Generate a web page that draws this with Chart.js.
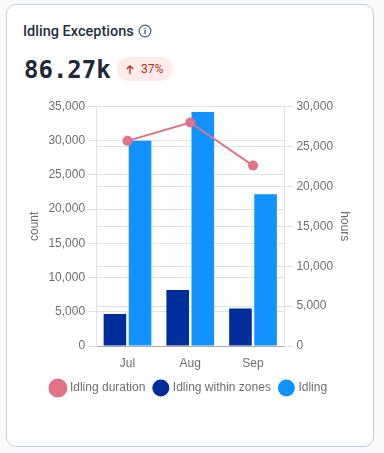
<!DOCTYPE html>
<html>
  <head>
    <title>Idling Exceptions</title>
    <style>
      body {
        margin: 0;
        width: 384px;
        height: 453px;
        background-color: #f8fafc;
        overflow: hidden;
        position: relative;
      }

      .card {
        position: absolute;
        left: 6px;
        top: 4px;
        width: 366px;
        height: 441px;
        background-color: #fff;
        border: 1px solid #c5d0df;
        border-radius: 10px;
      }

      .title {
        position: absolute;
        left: 23px;
        top: 23px;
        font: 500 14.5px Roboto, sans-serif;
        color: #27303f;
        line-height: 18px;
      }

      .info {
        position: absolute;
        left: 138px;
        top: 24px;
      }

      .total {
        position: absolute;
        left: 24px;
        top: 55px;
        font: bold 24px "DejaVu Sans Mono", monospace;
        line-height: 30px;
        color: #1f2937;
      }

      .badge {
        position: absolute;
        left: 117px;
        top: 57px;
        width: 56px;
        height: 24px;
        border-radius: 12px;
        background-color: #fdecea;
      }

      .badge svg {
        position: absolute;
        left: 8px;
        top: 7px;
      }

      .badge span {
        position: absolute;
        left: 24px;
        top: 0;
        color: #c5281c;
        font: 12px/24px Roboto, sans-serif;
      }

      #chart-box {
        position: absolute;
        left: 7px;
        top: 90px;
        width: 364px;
        height: 314px;
      }
    </style>
  </head>
  <body>
    <div class="card"></div>
    <div class="title">Idling Exceptions</div>
    <svg class="info" width="14" height="14" viewBox="0 0 14 14">
      <circle cx="7" cy="7" r="5.8" fill="none" stroke="#56657a" stroke-width="1.3" />
      <rect x="6.3" y="6" width="1.4" height="4" fill="#56657a" />
      <rect x="6.3" y="3.8" width="1.4" height="1.4" fill="#56657a" />
    </svg>
    <div class="total">86.27k</div>
    <div class="badge">
      <svg width="10" height="11" viewBox="0 0 10 11">
        <path d="M5 10V2M1.8 5L5 1.8 8.2 5" fill="none" stroke="#c5281c" stroke-width="1.3" />
      </svg>
      <span>37%</span>
    </div>
    <div id="chart-box"><canvas id="idling-chart"></canvas></div>

    <script src="https://cdn.jsdelivr.net/npm/chart.js"></script>
    <script>
      const months = ["Jul", "Aug", "Sep"];
      const idlingDuration = [25700, 28000, 22600];
      const idlingWithinZones = [4700, 8200, 5500];
      const idling = [30000, 34200, 22200];

      const tickFont = { family: "'Liberation Sans', Arial, sans-serif", size: 12 };

      const chart = new Chart(document.getElementById("idling-chart"), {
        data: {
          labels: months,
          datasets: [
            {
              type: "line",
              label: "Idling duration",
              data: idlingDuration,
              yAxisID: "y1",
              borderColor: "#e27386",
              backgroundColor: "#e27386",
              borderWidth: 2,
              pointRadius: 4,
              pointHoverRadius: 4,
            },
            {
              type: "bar",
              label: "Idling within zones",
              data: idlingWithinZones,
              yAxisID: "y",
              backgroundColor: "#002d9c",
              categoryPercentage: 0.8,
              barPercentage: 0.9,
            },
            {
              type: "bar",
              label: "Idling",
              data: idling,
              yAxisID: "y",
              backgroundColor: "#1192ff",
              categoryPercentage: 0.8,
              barPercentage: 0.9,
            },
          ],
        },
        options: {
          responsive: true,
          maintainAspectRatio: false,
          animation: false,
          layout: { padding: { left: 16, right: 15, top: 16.5 } },
          plugins: {
            tooltip: { enabled: false },
            legend: {
              position: "bottom",
              labels: {
                usePointStyle: true,
                boxHeight: 12,
                padding: 9.5,
                color: "#6f6f6f",
                font: tickFont,
              },
            },
          },
          scales: {
            x: {
              grid: { display: false },
              border: { color: "#aaa" },
              ticks: { color: "#6f6f6f", font: tickFont, padding: 2 },
            },
            y: {
              position: "left",
              min: 0,
              max: 35000,
              ticks: { stepSize: 5000, color: "#6f6f6f", font: tickFont, padding: 3 },
              grid: { color: "#e2e2e2" },
              border: { color: "#e2e2e2" },
              title: { display: true, text: "count", color: "#6f6f6f", font: tickFont },
            },
            y1: {
              position: "right",
              min: 0,
              max: 30000,
              ticks: { stepSize: 5000, color: "#6f6f6f", font: tickFont, padding: 4 },
              grid: { color: "#e2e2e2" },
              border: { color: "#e2e2e2" },
              title: {
                display: true,
                text: "hours",
                color: "#6f6f6f",
                font: tickFont,
                padding: { top: 4, bottom: 0.5 },
              },
            },
          },
        },
      });
    </script>
  </body>
</html>
